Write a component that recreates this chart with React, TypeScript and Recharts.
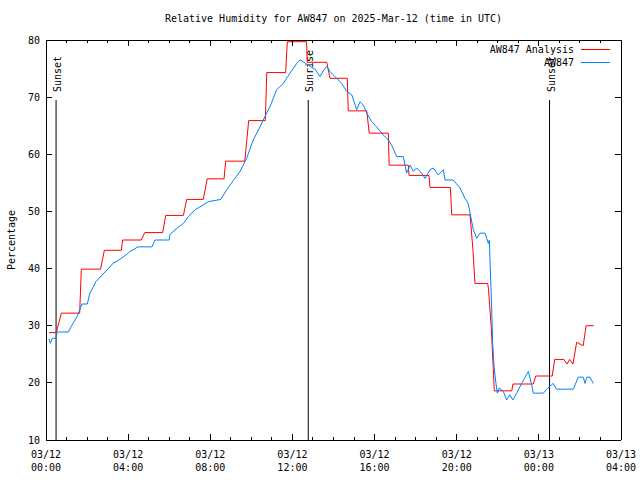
import {
  LineChart,
  Line,
  XAxis,
  YAxis,
  Legend,
  ReferenceLine,
} from "recharts";

// hours since 03/12 00:00 UTC, relative humidity %
const analysisPoints: [number, number][] = [
  [0.15, 28.8], [0.5, 28.8], [0.75, 32.2], [1.64, 32.2], [1.72, 39.9],
  [2.66, 39.9], [2.84, 43.2], [3.67, 43.2], [3.73, 45.0], [4.64, 45.0],
  [4.81, 46.3], [5.68, 46.3], [5.83, 49.3], [6.69, 49.3], [6.85, 52.1],
  [7.66, 52.1], [7.85, 55.7], [8.67, 55.7], [8.75, 58.8], [9.68, 58.8],
  [9.87, 65.9], [10.68, 65.9], [10.75, 74.3], [11.67, 74.3], [11.75, 79.7],
  [12.69, 79.7], [12.72, 76.1], [13.67, 76.1], [13.83, 73.3], [14.67, 73.3],
  [14.72, 67.6], [15.62, 67.6], [15.74, 63.7], [16.67, 63.7], [16.71, 58.1],
  [17.64, 58.1], [17.68, 56.3], [18.65, 56.3], [18.7, 54.2], [19.69, 54.2],
  [19.76, 49.4], [20.65, 49.4], [20.79, 43.3], [20.89, 37.4], [21.51, 37.4],
  [21.55, 36.3], [21.69, 29.3], [21.83, 18.6], [22.68, 18.6], [22.74, 19.8],
  [23.73, 19.8], [23.85, 21.2], [24.65, 21.2], [24.77, 24.1], [25.22, 24.1],
  [25.37, 23.3], [25.5, 24.1], [25.66, 23.3], [25.84, 27.1], [26.16, 26.5],
  [26.3, 30.0], [26.67, 30.0],
];

const stationPoints: [number, number][] = [
  [0.15, 27.7], [0.21, 26.9], [0.31, 27.8], [0.49, 27.8], [0.54, 28.9],
  [1.09, 28.9], [1.22, 29.8], [1.38, 30.8], [1.51, 31.6], [1.66, 32.9],
  [1.75, 33.8], [2.01, 33.8], [2.14, 35.7], [2.29, 36.7], [2.43, 37.7],
  [2.68, 38.7], [3.02, 39.9], [3.26, 40.9], [3.55, 41.5], [3.9, 42.4],
  [4.09, 43.0], [4.48, 43.8], [5.16, 43.8], [5.31, 45.0], [6.0, 45.0],
  [6.04, 46.0], [6.39, 47.1], [6.69, 47.9], [6.93, 49.1], [7.26, 50.3],
  [7.5, 50.8], [7.9, 51.7], [8.51, 52.1], [8.8, 53.8], [9.12, 55.4],
  [9.45, 57.0], [9.77, 59.3], [10.09, 62.5], [10.42, 64.8], [10.66, 66.6],
  [10.94, 68.6], [11.23, 71.3], [11.56, 72.4], [11.88, 74.2], [12.21, 75.9],
  [12.37, 76.5], [12.53, 76.2], [12.69, 75.8], [12.77, 75.6], [12.94, 75.2],
  [13.1, 74.9], [13.34, 73.6], [13.54, 74.8], [13.67, 75.4], [13.83, 74.5],
  [14.07, 73.6], [14.4, 72.4], [14.64, 71.0], [14.89, 70.4], [15.13, 67.8],
  [15.29, 69.2], [15.45, 68.6], [15.62, 67.2], [15.86, 65.7], [16.1, 64.8],
  [16.42, 63.4], [16.67, 62.5], [16.83, 61.6], [17.08, 59.6], [17.4, 59.6],
  [17.56, 56.7], [17.73, 58.1], [17.89, 57.0], [18.05, 57.6], [18.29, 56.7],
  [18.46, 55.8], [18.7, 57.3], [18.86, 57.6], [19.1, 56.4], [19.35, 57.3],
  [19.43, 55.5], [19.83, 55.5], [20.16, 54.1], [20.4, 52.3], [20.56, 51.4],
  [20.73, 48.2], [20.81, 46.8], [20.97, 45.3], [21.13, 46.2], [21.38, 46.2],
  [21.54, 44.4], [21.59, 45.0], [21.62, 41.5], [21.7, 33.3], [21.75, 26.9],
  [21.82, 22.8], [21.91, 19.9], [21.98, 18.2], [22.07, 19.1], [22.27, 18.5],
  [22.43, 17.0], [22.59, 17.9], [22.73, 17.0], [22.92, 18.2], [23.16, 19.9],
  [23.49, 22.0], [23.65, 19.6], [23.73, 18.2], [24.22, 18.2], [24.38, 18.9],
  [24.7, 19.9], [24.86, 18.9], [25.68, 18.9], [25.92, 21.0], [26.16, 21.0],
  [26.25, 19.9], [26.33, 21.0], [26.49, 21.0], [26.65, 19.9],
];

const seriesNames = ["AW847 Analysis", "AW847"];
const seriesColors = ["#ff0000", "#0080ff"];

const sunNames = ["Sunset", "Sunrise", "Sunset"];
const sunTimes = [0.49, 12.77, 24.52];

const hourTicks = Array.from({ length: 29 }, (_, i) => i);
const yTicks = [10, 20, 30, 40, 50, 60, 70, 80];
const dateLabels = ["03/12", "03/12", "03/12", "03/12", "03/12", "03/12", "03/13", "03/13"];
const timeLabels = ["00:00", "04:00", "08:00", "12:00", "16:00", "20:00", "00:00", "04:00"];

const FONT = "'DejaVu Sans Mono', monospace";

const analysisData = analysisPoints.map(([t, v]) => ({ t, v }));
const stationData = stationPoints.map(([t, v]) => ({ t, v }));

function BottomTick(props: any) {
  const { x, y, payload } = props;
  const h = payload.value;
  const major = h % 4 === 0;
  const i = h / 4;
  return (
    <g>
      <line x1={x} y1={y} x2={x} y2={y - (major ? 6 : 3)} stroke="#000" shapeRendering="crispEdges" />
      {major && (
        <text x={x} y={y} textAnchor="middle" fontFamily={FONT} fontSize={10} fill="#000">
          <tspan x={x} dy={18}>{dateLabels[i]}</tspan>
          <tspan x={x} dy={13}>{timeLabels[i]}</tspan>
        </text>
      )}
    </g>
  );
}

function TopTick(props: any) {
  const { x, y, payload } = props;
  const major = payload.value % 4 === 0;
  return <line x1={x} y1={y} x2={x} y2={y + (major ? 6 : 3)} stroke="#000" shapeRendering="crispEdges" />;
}

function LeftTick(props: any) {
  const { x, y, payload } = props;
  return (
    <g>
      <line x1={x} y1={y} x2={x + 6} y2={y} stroke="#000" shapeRendering="crispEdges" />
      <text x={x - 6} y={y + 3.5} textAnchor="end" fontFamily={FONT} fontSize={10} fill="#000">
        {payload.value}
      </text>
    </g>
  );
}

function RightTick(props: any) {
  const { x, y } = props;
  return <line x1={x} y1={y} x2={x - 6} y2={y} stroke="#000" shapeRendering="crispEdges" />;
}

function LegendBox() {
  return (
    <div style={{ fontFamily: FONT, fontSize: 10, lineHeight: "13px", color: "#000" }}>
      {seriesNames.map((n, i) => (
        <div key={n} style={{ display: "flex", alignItems: "center", justifyContent: "flex-end" }}>
          <span>{n}</span>
          <span style={{ display: "inline-block", width: 29, height: 1, background: seriesColors[i], marginLeft: 7 }} />
        </div>
      ))}
    </div>
  );
}

export default function App() {
  const axisLine = { stroke: "#000", shapeRendering: "crispEdges" } as any;
  return (
    <div style={{ position: "absolute", left: 0, top: 0, width: 640, height: 480, background: "#fff" }}>
      <div
        style={{
          position: "absolute", left: 0, top: 13, width: 667, textAlign: "center",
          fontFamily: FONT, fontSize: 10, lineHeight: "12px",
        }}
      >
        Relative Humidity for AW847 on 2025-Mar-12 (time in UTC)
      </div>
      <div
        style={{
          position: "absolute", left: 12, top: 240, transform: "translate(-50%, -50%) rotate(-90deg)",
          fontFamily: FONT, fontSize: 10, lineHeight: "12px", whiteSpace: "nowrap",
        }}
      >
        Percentage
      </div>
      <LineChart width={640} height={480} margin={{ top: 39, right: 18, bottom: 0, left: 6 }}>
        <XAxis
          xAxisId="b" type="number" dataKey="t" domain={[0, 28]} ticks={hourTicks} interval={0}
          allowDataOverflow height={40} tickSize={0} tickMargin={0} tickLine={false}
          axisLine={axisLine} tick={<BottomTick />}
        />
        <XAxis
          xAxisId="top" orientation="top" type="number" dataKey="t" domain={[0, 28]} ticks={hourTicks}
          interval={0} allowDataOverflow height={1} tickSize={0} tickMargin={0} tickLine={false}
          axisLine={axisLine} tick={<TopTick />}
        />
        <YAxis
          yAxisId="l" type="number" domain={[10, 80]} ticks={yTicks} interval={0} allowDataOverflow
          width={40} tickSize={0} tickMargin={0} tickLine={false} axisLine={axisLine} tick={<LeftTick />}
        />
        <YAxis
          yAxisId="r" orientation="right" type="number" domain={[10, 80]} ticks={yTicks} interval={0}
          allowDataOverflow width={1} tickSize={0} tickMargin={0} tickLine={false} axisLine={axisLine}
          tick={<RightTick />}
        />
        {sunTimes.map((t, i) => (
          <ReferenceLine
            key={i}
            xAxisId="b"
            yAxisId="l"
            segment={[{ x: t, y: 10 }, { x: t, y: 69.5 }]}
            stroke="#000"
            strokeWidth={1}
            label={(p: any) => {
              const vb = p.viewBox || {};
              const x = vb.x + 5;
              const y = vb.y - 8;
              return (
                <text x={x} y={y} transform={`rotate(-90 ${x} ${y})`} fontFamily={FONT} fontSize={10} fill="#000">
                  {sunNames[i]}
                </text>
              );
            }}
          />
        ))}
        <Line
          xAxisId="b" yAxisId="l" data={analysisData} dataKey="v" type="linear"
          stroke={seriesColors[0]} strokeWidth={1} dot={false} isAnimationActive={false} name={seriesNames[0]}
        />
        <Line
          xAxisId="b" yAxisId="l" data={stationData} dataKey="v" type="linear"
          stroke={seriesColors[1]} strokeWidth={1} dot={false} isAnimationActive={false} name={seriesNames[1]}
        />
        <Legend
          layout="horizontal" verticalAlign="middle" align="center"
          wrapperStyle={{ position: "absolute", top: 43, left: 400, width: 210, height: 26 }}
          content={<LegendBox />}
        />
      </LineChart>
    </div>
  );
}
